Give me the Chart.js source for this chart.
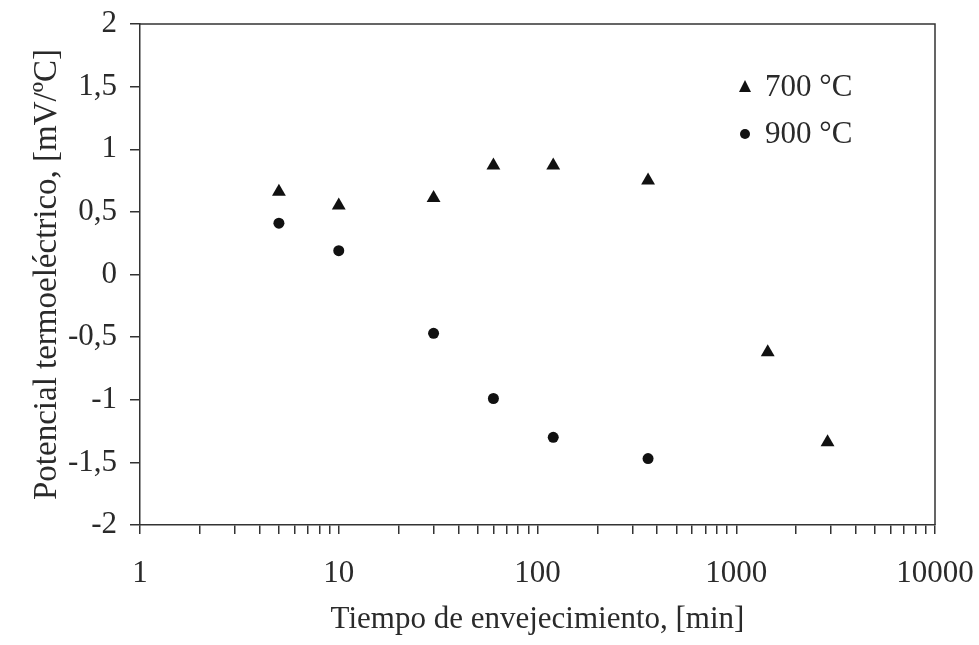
<!DOCTYPE html>
<html>
<head>
<meta charset="utf-8">
<script src="https://cdn.jsdelivr.net/npm/chart.js@4"></script>
<style>
html,body{margin:0;padding:0;background:#fff;}
#wrap{width:979px;height:645px;}
</style>
</head>
<body>
<div id="wrap"><canvas id="c" width="979" height="645"></canvas></div>
<script>
const times700 = [5, 10, 30, 60, 120, 360, 1440, 2880];
const values700 = [0.66, 0.55, 0.61, 0.87, 0.87, 0.75, -0.62, -1.34];
const times900 = [5, 10, 30, 60, 120, 360];
const values900 = [0.41, 0.19, -0.47, -0.99, -1.30, -1.47];
const seriesLabels = ['700 °C', '900 °C'];
const xTickValues = [1, 10, 100, 1000, 10000];
const yTickValues = [-2, -1.5, -1, -0.5, 0, 0.5, 1, 1.5, 2];

const FONT = '"Liberation Serif", "Times New Roman", serif';
const TXT = '#2a2a2a';
const AX = '#333333';
const FS = 31;

const pts = (xs, ys) => xs.map((x, i) => ({x: x, y: ys[i]}));

const frame = {
  id: 'frame',
  afterDraw(chart) {
    const {ctx, chartArea: a} = chart;
    ctx.save();
    ctx.strokeStyle = AX;
    ctx.lineWidth = 1.5;
    ctx.beginPath();
    ctx.moveTo(a.left, a.top); ctx.lineTo(a.right, a.top); ctx.lineTo(a.right, a.bottom);
    ctx.stroke();
    // legend inside plot
    const items = chart.data.datasets;
    const lx = 745, ly0 = 87, dy = 47;
    ctx.font = FS + 'px ' + FONT;
    ctx.textBaseline = 'middle';
    ctx.textAlign = 'left';
    items.forEach((ds, i) => {
      const y = ly0 + i * dy;
      ctx.fillStyle = '#111';
      ctx.beginPath();
      if (ds.pointStyle === 'triangle') {
        ctx.moveTo(lx, y - 7); ctx.lineTo(lx + 6, y + 5); ctx.lineTo(lx - 6, y + 5); ctx.closePath();
      } else {
        ctx.arc(lx, y, 5, 0, Math.PI * 2);
      }
      ctx.fill();
      ctx.fillStyle = TXT;
      ctx.fillText(ds.label, lx + 20, y + 1);
    });
    ctx.restore();
  }
};

function zeroPad(scale) {
  scale.paddingLeft = 0; scale.paddingRight = 0; scale.paddingTop = 0; scale.paddingBottom = 0;
}

new Chart(document.getElementById('c'), {
  type: 'scatter',
  data: {
    datasets: [
      {label: seriesLabels[0], data: pts(times700, values700), pointStyle: 'triangle', pointRadius: 8, pointHoverRadius: 8,
       backgroundColor: '#111', borderColor: '#111', borderWidth: 0},
      {label: seriesLabels[1], data: pts(times900, values900), pointStyle: 'circle', pointRadius: 5.5, pointHoverRadius: 5.5,
       backgroundColor: '#111', borderColor: '#111', borderWidth: 0}
    ]
  },
  options: {
    responsive: false,
    animation: false,
    events: [],
    layout: {padding: {top: 24, right: 44, left: 0, bottom: 0}},
    plugins: {legend: {display: false}, tooltip: {enabled: false}},
    scales: {
      x: {
        type: 'logarithmic',
        min: 1, max: 10000,
        afterBuildTicks(scale) {
          const t = [];
          for (let d = 1; d < 10000; d *= 10) for (let k = 1; k < 10; k++) t.push({value: k * d});
          t.push({value: 10000});
          scale.ticks = t;
        },
        afterFit(scale) { scale.height = 120; zeroPad(scale); },
        border: {display: true, color: AX, width: 1.5},
        grid: {display: true, drawOnChartArea: false, drawTicks: true, tickLength: 9, color: AX, lineWidth: 1.5},
        ticks: {
          autoSkip: false, maxRotation: 0, padding: 21,
          color: TXT, font: {family: FONT, size: FS},
          callback: (v) => xTickValues.includes(v) ? String(v) : ''
        },
        title: {display: true, text: 'Tiempo de envejecimiento, [min]', color: TXT, font: {family: FONT, size: FS}, padding: {top: 0, bottom: 7}}
      },
      y: {
        min: -2, max: 2,
        afterBuildTicks(scale) { scale.ticks = yTickValues.map(v => ({value: v})); },
        afterFit(scale) { scale.width = 140; zeroPad(scale); },
        border: {display: true, color: AX, width: 1.5},
        grid: {display: true, drawOnChartArea: false, drawTicks: true, tickLength: 10, color: AX, lineWidth: 1.5},
        ticks: {
          padding: 13, color: TXT, font: {family: FONT, size: FS},
          callback: (v) => String(v).replace('.', ',')
        },
        title: {display: true, text: 'Potencial termoeléctrico, [mV/ºC]', color: TXT, font: {family: FONT, size: 33}, padding: {top: 28, bottom: 4}}
      }
    }
  },
  plugins: [frame]
});
</script>
</body>
</html>
